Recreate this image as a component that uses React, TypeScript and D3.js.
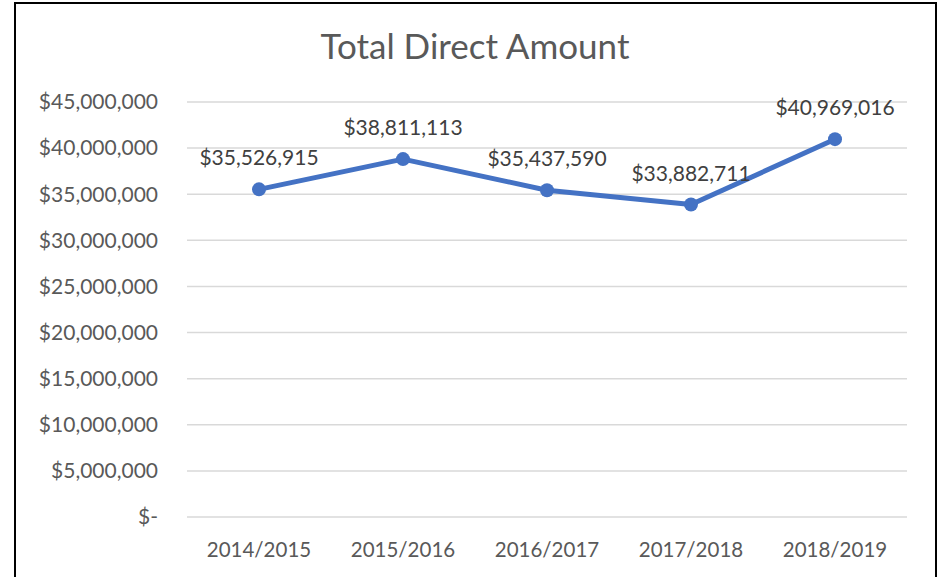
import React, { useRef, useEffect } from 'react';
import * as d3 from 'd3';

// data
const years = ['2014/2015', '2015/2016', '2016/2017', '2017/2018', '2018/2019'];
const amounts = [35526915, 38811113, 35437590, 33882711, 40969016];
const yTicks = [0, 5000000, 10000000, 15000000, 20000000, 25000000, 30000000, 35000000, 40000000, 45000000];

const fmt = d3.format('$,');
const tickFmt = (v: number) => (v === 0 ? '$-' : fmt(v));

export default function App() {
  const ref = useRef<SVGSVGElement>(null);

  // graph width, height
  const W = 943;
  const H = 577;
  const margin = { top: 102, right: 36, bottom: 60, left: 187 };
  const font = 'Lato, "Open Sans", sans-serif';
  const grey = '#595959';

  useEffect(() => {
    const svg = d3.select(ref.current);
    svg.selectAll('*').remove();

    // border
    svg.append('rect')
      .attr('x', 15).attr('y', 3)
      .attr('width', 921).attr('height', 620)
      .attr('fill', 'white')
      .attr('stroke', 'black')
      .attr('stroke-width', 2);

    // title
    svg.append('text')
      .attr('x', 475).attr('y', 59)
      .attr('text-anchor', 'middle')
      .attr('font-family', font)
      .attr('font-size', 35)
      .attr('fill', grey)
      .text('Total Direct Amount');

    const x = d3.scaleBand()
      .domain(years)
      .range([margin.left, W - margin.right]);

    const y = d3.scaleLinear()
      .domain([0, 45000000])
      .range([517, margin.top]);

    // gridlines
    svg.append('g')
      .selectAll('line')
      .data(yTicks)
      .enter()
      .append('line')
      .attr('x1', x.range()[0])
      .attr('x2', x.range()[1])
      .attr('y1', d => y(d))
      .attr('y2', d => y(d))
      .attr('stroke', '#d9d9d9')
      .attr('stroke-width', 1.5);

    // yAxis labels
    svg.append('g')
      .selectAll('text')
      .data(yTicks)
      .enter()
      .append('text')
      .attr('x', 158)
      .attr('y', d => y(d))
      .attr('dy', '0.35em')
      .attr('text-anchor', 'end')
      .attr('font-family', font)
      .attr('font-size', 21)
      .attr('fill', grey)
      .text(d => tickFmt(d));

    // xAxis labels
    svg.append('g')
      .selectAll('text')
      .data(years)
      .enter()
      .append('text')
      .attr('x', d => (x(d) as number) + x.bandwidth() / 2)
      .attr('y', 557)
      .attr('text-anchor', 'middle')
      .attr('font-family', font)
      .attr('font-size', 20.5)
      .attr('fill', grey)
      .text(d => d);

    const pts = years.map((yr, i) => ({ yr, v: amounts[i] }));
    const cx = (d: { yr: string }) => (x(d.yr) as number) + x.bandwidth() / 2;

    // line
    const line = d3.line<{ yr: string; v: number }>()
      .x(d => cx(d))
      .y(d => y(d.v));

    svg.append('path')
      .datum(pts)
      .attr('d', line)
      .attr('fill', 'none')
      .attr('stroke', '#4472C4')
      .attr('stroke-width', 5)
      .attr('stroke-linejoin', 'round');

    // markers
    svg.append('g')
      .selectAll('circle')
      .data(pts)
      .enter()
      .append('circle')
      .attr('cx', d => cx(d))
      .attr('cy', d => y(d.v))
      .attr('r', 7)
      .attr('fill', '#4472C4');

    // data labels
    svg.append('g')
      .selectAll('text')
      .data(pts)
      .enter()
      .append('text')
      .attr('x', d => cx(d))
      .attr('y', d => y(d.v) - 24)
      .attr('text-anchor', 'middle')
      .attr('font-family', font)
      .attr('font-size', 21)
      .attr('fill', '#404040')
      .text(d => fmt(d.v));
  }, []);

  return (
    <svg
      ref={ref}
      width={W}
      height={H}
      style={{ position: 'absolute', left: 0, top: 0, background: 'white' }}
    />
  );
}
